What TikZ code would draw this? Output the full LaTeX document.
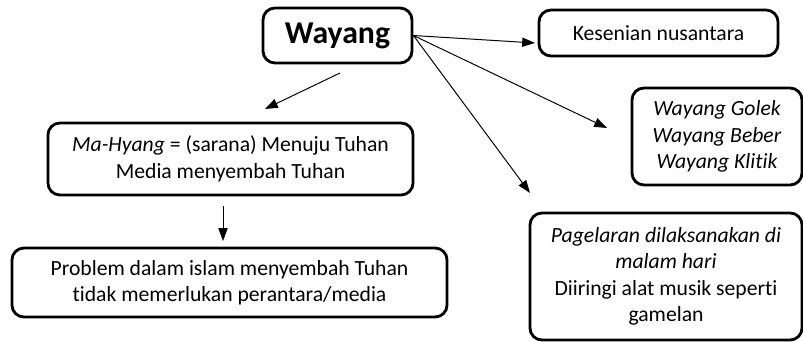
\documentclass[tikz,border=0pt]{standalone}
\usepackage{fontspec}
\setmainfont[Ligatures=NoCommon]{Carlito}
\usetikzlibrary{positioning,arrows.meta}

\begin{document}
\begin{tikzpicture}[x=0.025cm, y=-0.025cm,
  box/.style={draw, line width=2pt, rounded corners=0.3cm, align=center, inner sep=2pt,
    font=\fontsize{15.4}{18.8}\selectfont},
  arr/.style={-{Triangle[length=3.2mm,width=2.3mm]}, line width=0.7pt}]
\useasboundingbox (0,0) rectangle (803,342);
% boxes
\node[box, minimum width=3.725cm, minimum height=1.375cm, font=\fontsize{22.6}{26}\selectfont\bfseries] (wayang) at (337.5,35.5) {Wayang};
\node[box, minimum width=5.975cm, minimum height=1.15cm] (kesenian) at (658.5,33) {Kesenian nusantara};
\node[box, minimum width=4.25cm, minimum height=2.425cm] (jenis) at (717,136.5) {\itshape Wayang Golek\\ \itshape Wayang Beber\\ \itshape Wayang Klitik};
\node[box, minimum width=6.8cm, minimum height=3.175cm] (pagelaran) at (666,276.5) {\itshape Pagelaran dilaksanakan di\\ \itshape malam hari\\ Diiringi alat musik seperti\\ gamelan};
\node[box, minimum width=9.125cm, minimum height=1.8cm] (mahyang) at (230.5,159) {\textit{Ma-Hyang} = (sarana) Menuju Tuhan\\ Media menyembah Tuhan};
\node[box, minimum width=10.875cm, minimum height=1.725cm] (problem) at (229.5,282.5) {Problem dalam islam menyembah Tuhan\\ tidak memerlukan perantara/media};
% free arrow ends
\coordinate (a0) at (340,73);
\coordinate (a1) at (265,109);
\coordinate (b0) at (223,206);
\coordinate (b1) at (223,241);
\coordinate (c1) at (535,43);
\coordinate (d1) at (607,128);
\coordinate (e1) at (530,193);
% arrows
\draw[arr] (a0) -- (a1);
\draw[arr] (b0) -- (b1);
\draw[arr] (wayang.east) -- (c1);
\draw[arr] (wayang.east) -- (d1);
\draw[arr] (wayang.east) -- (e1);
\end{tikzpicture}
\end{document}
